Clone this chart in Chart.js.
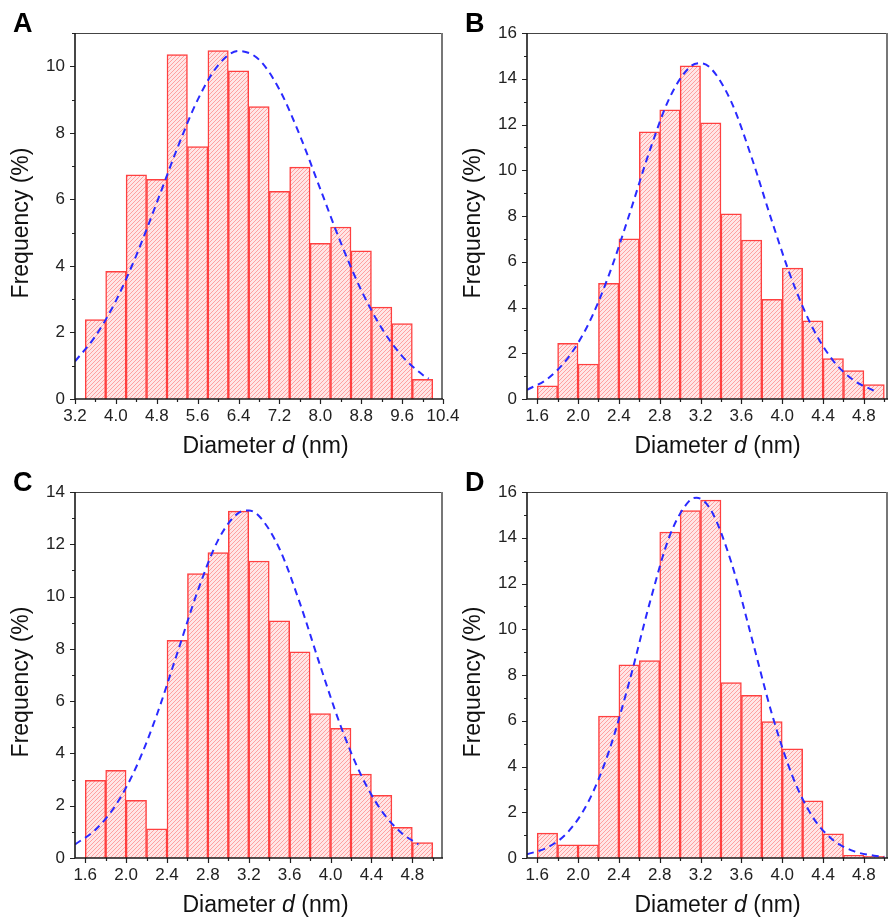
<!DOCTYPE html>
<html>
<head>
<meta charset="utf-8">
<script src="https://cdn.jsdelivr.net/npm/chart.js@4.4.1/dist/chart.umd.min.js"></script>
<style>
  body { margin: 0; background: #fff; }
  #wrap { position: relative; width: 888px; height: 917px; overflow: hidden; }
  canvas { position: absolute; }
</style>
</head>
<body>
<div id="wrap">
  <canvas id="chartA" width="470" height="460" style="left:0;top:0"></canvas>
  <canvas id="chartB" width="444" height="460" style="left:444px;top:0"></canvas>
  <canvas id="chartC" width="470" height="457" style="left:0;top:460px"></canvas>
  <canvas id="chartD" width="444" height="457" style="left:444px;top:460px"></canvas>
</div>
<script>
// bin centres (nm)
const binsA = [3.6, 4.0, 4.4, 4.8, 5.2, 5.6, 6.0, 6.4, 6.8, 7.2, 7.6, 8.0, 8.4, 8.8, 9.2, 9.6, 10.0];
const binsBCD = [1.7, 1.9, 2.1, 2.3, 2.5, 2.7, 2.9, 3.1, 3.3, 3.5, 3.7, 3.9, 4.1, 4.3, 4.5, 4.7, 4.9];

// frequencies (%)
const freqA = [2.39, 3.84, 6.74, 6.60, 10.35, 7.59, 10.47, 9.86, 8.79, 6.24, 6.97, 4.68, 5.17, 4.45, 2.76, 2.27, 0.59];
const freqB = [0.58, 2.43, 1.53, 5.06, 7.00, 11.68, 12.64, 14.57, 12.07, 8.10, 6.95, 4.36, 5.72, 3.42, 1.77, 1.24, 0.63];
const freqC = [2.97, 3.35, 2.21, 1.12, 8.33, 10.88, 11.68, 13.27, 11.36, 9.07, 7.89, 5.52, 4.96, 3.21, 2.40, 1.17, 0.59];
const freqD = [1.09, 0.58, 0.58, 6.20, 8.44, 8.63, 14.25, 15.19, 15.65, 7.67, 7.11, 5.96, 4.77, 2.50, 1.06, 0.12, 0.07];

// dashed fit curves
const fitXA = [3.2, 3.6, 4.0, 4.4, 4.8, 5.2, 5.6, 6.0, 6.4, 6.8, 7.2, 7.6, 8.0, 8.4, 8.8, 9.2, 9.6, 10.0, 10.12];
const fitYA = [1.13, 1.89, 2.95, 4.32, 5.90, 7.53, 8.99, 10.03, 10.46, 10.20, 9.30, 7.92, 6.31, 4.70, 3.27, 2.13, 1.29, 0.73, 0.61];
const fitXB = [1.5, 1.7, 1.9, 2.1, 2.3, 2.5, 2.7, 2.9, 3.1, 3.2, 3.3, 3.5, 3.7, 3.9, 4.1, 4.3, 4.5, 4.7, 4.9];
const fitYB = [0.40, 0.88, 1.79, 3.26, 5.39, 8.03, 10.83, 13.20, 14.53, 14.68, 14.46, 13.00, 10.56, 7.76, 5.15, 3.09, 1.67, 0.82, 0.36];
const fitXC = [1.5, 1.7, 1.9, 2.1, 2.3, 2.5, 2.7, 2.9, 3.1, 3.2, 3.3, 3.5, 3.7, 3.9, 4.1, 4.3, 4.5, 4.7, 4.86];
const fitYC = [0.52, 1.08, 2.03, 3.49, 5.47, 7.83, 10.21, 12.16, 13.20, 13.29, 13.08, 11.83, 9.75, 7.34, 5.04, 3.16, 1.80, 0.94, 0.52];
const fitXD = [1.5, 1.7, 1.9, 2.1, 2.3, 2.5, 2.7, 2.9, 3.1, 3.16, 3.3, 3.5, 3.7, 3.9, 4.1, 4.3, 4.5, 4.7, 4.9, 5.0];
const fitYD = [0.16, 0.46, 1.13, 2.45, 4.63, 7.67, 11.12, 14.11, 15.66, 15.75, 15.22, 12.94, 9.64, 6.28, 3.58, 1.78, 0.78, 0.30, 0.10, 0.05];

// tick labels
const xTicksA = [3.2, 4.0, 4.8, 5.6, 6.4, 7.2, 8.0, 8.8, 9.6, 10.4];
const xTicksBCD = [1.6, 2.0, 2.4, 2.8, 3.2, 3.6, 4.0, 4.4, 4.8];
const yTicksA = [0, 2, 4, 6, 8, 10];
const yTicksC = [0, 2, 4, 6, 8, 10, 12, 14];
const yTicksBD = [0, 2, 4, 6, 8, 10, 12, 14, 16];

const FONT = 'Arial, "Liberation Sans", sans-serif';
Chart.defaults.font.family = FONT;
Chart.defaults.font.size = 17;
Chart.defaults.color = '#222';

function hatch(ctx) {
  const c = document.createElement('canvas');
  c.width = 4; c.height = 4;
  const g = c.getContext('2d');
  g.fillStyle = '#ffe6e6';
  g.fillRect(0, 0, 4, 4);
  g.strokeStyle = '#ffa0a0';
  g.lineWidth = 1;
  g.beginPath();
  g.moveTo(0, 4); g.lineTo(4, 0);
  g.moveTo(-1, 1); g.lineTo(1, -1);
  g.moveTo(3, 5); g.lineTo(5, 3);
  g.stroke();
  return ctx.createPattern(c, 'repeat');
}

// ticks, frame, titles and panel letter
const framePlugin = {
  id: 'frame',
  afterDraw(chart, args, opts) {
    const ctx = chart.ctx;
    const {left, right, top, bottom} = chart.chartArea;
    const xs = chart.scales.x, ys = chart.scales.y;
    ctx.save();

    // top + right frame
    ctx.strokeStyle = '#444'; ctx.lineWidth = 1;
    ctx.beginPath(); ctx.moveTo(left, top + 0.5); ctx.lineTo(right, top + 0.5); ctx.stroke();
    ctx.strokeStyle = '#777'; ctx.lineWidth = 2;
    ctx.beginPath(); ctx.moveTo(right - 1, top); ctx.lineTo(right - 1, bottom); ctx.stroke();

    // tick marks (major + minor halfway)
    ctx.strokeStyle = '#222'; ctx.lineWidth = 1.2;
    const marks = (scale) => {
      const v = scale.ticks.map(t => t.value);
      const step = v[1] - v[0];
      const out = v.map(val => [val, 5]);
      for (let m = v[0] - step / 2; m <= scale.max + 1e-6; m += step) {
        if (m >= scale.min - 1e-6) out.push([m, 3]);
      }
      return out;
    };
    ctx.beginPath();
    marks(xs).forEach(([v, len]) => {
      const p = Math.round(xs.getPixelForValue(v)) + 0.5;
      ctx.moveTo(p, bottom); ctx.lineTo(p, bottom + len);
    });
    marks(ys).forEach(([v, len]) => {
      const p = Math.round(ys.getPixelForValue(v)) + 0.5;
      ctx.moveTo(left, p); ctx.lineTo(left - len, p);
    });
    ctx.stroke();

    // axis lines
    ctx.strokeStyle = '#1a1a1a'; ctx.lineWidth = 1.6;
    ctx.beginPath();
    ctx.moveTo(left, top); ctx.lineTo(left, bottom);
    ctx.lineTo(right, bottom);
    ctx.stroke();

    // y title
    ctx.fillStyle = '#111';
    ctx.textBaseline = 'middle';
    ctx.textAlign = 'center';
    ctx.font = '23px ' + FONT;
    ctx.save();
    ctx.translate(left - 53, top + 190);
    ctx.rotate(-Math.PI / 2);
    ctx.fillText('Frequency (%)', 0, 0);
    ctx.restore();

    // x title with italic d
    const parts = [['Diameter ', ''], ['d', 'italic '], [' (nm)', '']];
    let total = 0;
    const widths = parts.map(([t, s]) => {
      ctx.font = s + '23px ' + FONT;
      const w = ctx.measureText(t).width;
      total += w;
      return w;
    });
    let x = left + 190.5 - total / 2;
    ctx.textAlign = 'left';
    parts.forEach(([t, s], i) => {
      ctx.font = s + '23px ' + FONT;
      ctx.fillText(t, x, bottom + 48);
      x += widths[i];
    });

    // panel letter
    ctx.font = 'bold 27px ' + FONT;
    ctx.textBaseline = 'alphabetic';
    ctx.fillStyle = '#000';
    ctx.fillText(opts.letter, left - 62, top - 1);
    ctx.restore();
  }
};

function makePanel(id, letter, bins, freq, fitX, fitY, xMin, xMax, yMax, xTicks, yTicks, geo) {
  const ctx = document.getElementById(id).getContext('2d');
  return new Chart(ctx, {
    type: 'bar',
    data: {
      datasets: [
        {
          type: 'line',
          data: fitX.map((x, i) => ({x: x, y: fitY[i]})),
          borderColor: '#2a2aff',
          borderWidth: 2,
          borderDash: [7, 5],
          pointRadius: 0,
          fill: false,
          cubicInterpolationMode: 'monotone',
          order: 0
        },
        {
          data: bins.map((b, i) => ({x: b, y: freq[i]})),
          backgroundColor: hatch(ctx),
          borderColor: '#ff4040',
          borderWidth: 1.5,
          borderSkipped: 'start',
          barPercentage: 1,
          categoryPercentage: 1,
          order: 1
        }
      ]
    },
    options: {
      responsive: false,
      animation: false,
      devicePixelRatio: 1,
      layout: { padding: { top: geo.top, right: geo.right, left: 0, bottom: 0 } },
      plugins: {
        legend: { display: false },
        tooltip: { enabled: false },
        frame: { letter: letter }
      },
      scales: {
        x: {
          type: 'linear',
          offset: false,
          min: xMin,
          max: xMax,
          grid: { display: false, drawTicks: false, offset: false },
          border: { display: false },
          afterBuildTicks: s => { s.ticks = xTicks.map(v => ({value: v})); },
          afterFit: s => { s.height = geo.xh; },
          ticks: { padding: 7, maxRotation: 0, autoSkip: false, callback: v => v.toFixed(1) }
        },
        y: {
          min: 0,
          max: yMax,
          grid: { display: false, drawTicks: false },
          border: { display: false },
          afterBuildTicks: s => { s.ticks = yTicks.map(v => ({value: v})); },
          afterFit: s => { s.width = geo.yw; },
          ticks: { padding: 10, callback: v => String(v) }
        }
      }
    },
    plugins: [framePlugin]
  });
}

makePanel('chartA', 'A', binsA, freqA, fitXA, fitYA, 3.2, 10.4, 11, xTicksA, yTicksA,
  {top: 33, right: 27, yw: 75, xh: 61});
makePanel('chartB', 'B', binsBCD, freqB, fitXB, fitYB, 1.5, 5.036, 16, xTicksBCD, yTicksBD,
  {top: 33, right: 0, yw: 83, xh: 61});
makePanel('chartC', 'C', binsBCD, freqC, fitXC, fitYC, 1.5, 5.1, 14, xTicksBCD, yTicksC,
  {top: 32, right: 27, yw: 75, xh: 59});
makePanel('chartD', 'D', binsBCD, freqD, fitXD, fitYD, 1.5, 5.036, 16, xTicksBCD, yTicksBD,
  {top: 32, right: 0, yw: 83, xh: 59});
</script>
</body>
</html>
